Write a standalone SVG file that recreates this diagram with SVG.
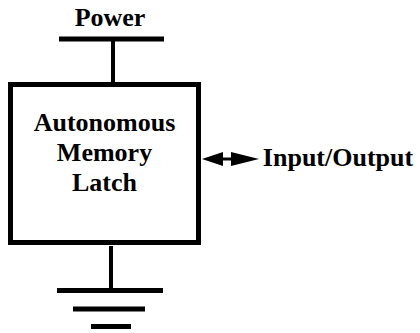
<svg xmlns="http://www.w3.org/2000/svg" width="420" height="333" viewBox="0 0 420 333">
<style>
.t{font-family:'Times New Roman','Liberation Serif','DejaVu Serif',serif;font-weight:bold;font-size:26px;fill:#000;text-anchor:middle}
.ln{stroke:#000;fill:none}
</style>
<rect width="420" height="333" fill="#fff"/>
<g id="power">
<text class="t" x="110" y="26">Power</text>
<line class="ln" x1="59" y1="39" x2="164" y2="39" stroke-width="5"/>
</g>
<g id="latch">
<rect class="ln" x="10.5" y="84.5" width="188" height="158" stroke-width="5"/>
<text class="t" x="104.5" y="131">Autonomous</text>
<text class="t" x="104.5" y="161">Memory</text>
<text class="t" x="104.5" y="191">Latch</text>
</g>
<g id="io">
<text class="t" x="338" y="166">Input/Output</text>
</g>
<g id="ground">
<line class="ln" x1="57" y1="290.5" x2="163" y2="290.5" stroke-width="5"/>
<line class="ln" x1="73" y1="309" x2="145" y2="309" stroke-width="5"/>
<line class="ln" x1="91" y1="326.5" x2="131" y2="326.5" stroke-width="5"/>
</g>
<g id="connectors">
<line class="ln" x1="113" y1="41" x2="113" y2="83" stroke-width="4"/>
<line class="ln" x1="111" y1="246" x2="111" y2="289" stroke-width="4"/>
<path d="M202,159 L223,152 L223,166 Z" fill="#000"/>
<line class="ln" x1="222" y1="159" x2="232" y2="159" stroke-width="3"/>
<path d="M259,159 L231,152 L231,166 Z" fill="#000"/>
</g>
</svg>
